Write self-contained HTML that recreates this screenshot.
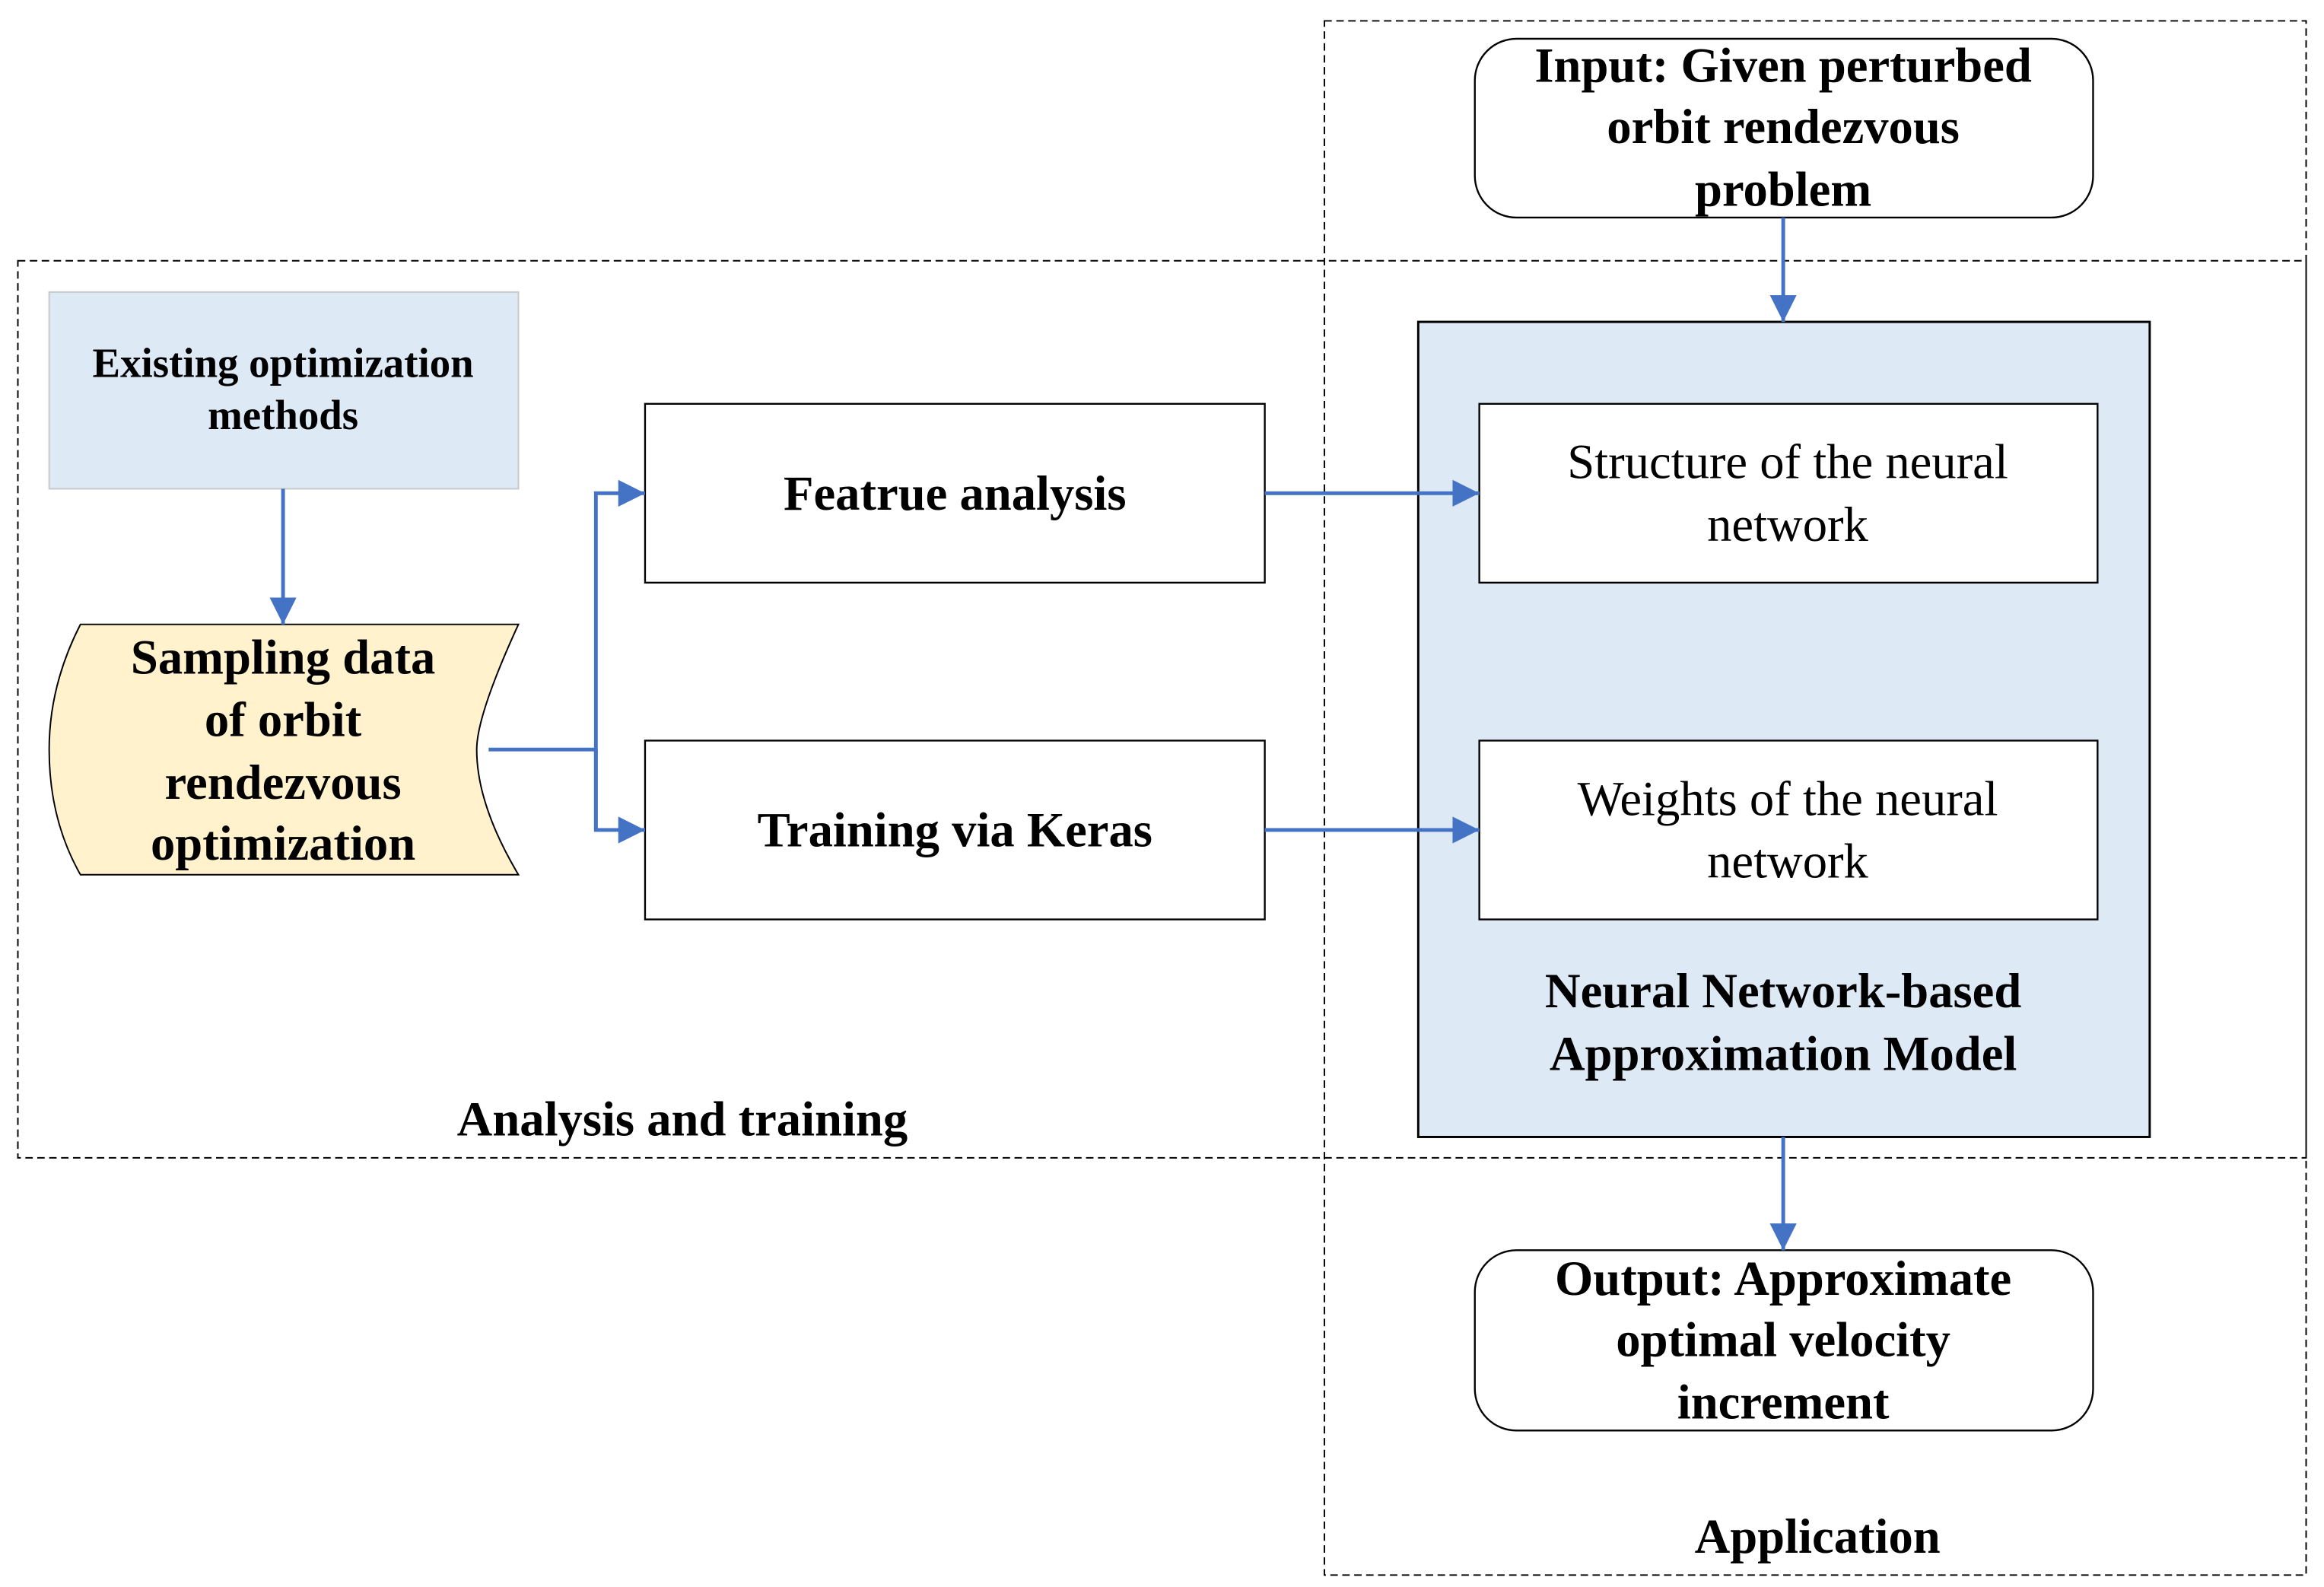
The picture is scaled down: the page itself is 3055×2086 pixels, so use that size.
<!DOCTYPE html>
<html><head><meta charset="utf-8"><style>html,body{margin:0;padding:0;background:#fff}svg{display:block}</style></head>
<body>
<svg width="3055" height="2086" viewBox="0 0 1560 1065" preserveAspectRatio="none" xmlns="http://www.w3.org/2000/svg" font-family="'Liberation Serif', serif">
<defs>
<marker id="b" viewBox="0 0 10 10" markerWidth="18" markerHeight="18" refX="10" refY="5" orient="auto" markerUnits="userSpaceOnUse"><path d="M0,0 L10,5 L0,10 Z" fill="#4472c4"/></marker></defs>
<rect width="1560" height="1065" fill="#fff"/>
<rect x="12" y="175" width="1536" height="602" fill="none" stroke="#000" stroke-width="1" stroke-dasharray="5,3"/>
<rect x="889" y="14" width="659" height="1043" fill="none" stroke="#000" stroke-width="1" stroke-dasharray="5,3"/>
<rect x="33" y="196" width="315" height="132" fill="#dde9f5" stroke="#c8c8c8" stroke-width="1"/>
<text font-weight="bold" font-size="28" text-anchor="middle"><tspan x="190" y="253">Existing optimization</tspan><tspan x="190" y="288">methods</tspan></text>
<path d="M54,419 L348,419 Q320,480 320,503 Q320,540 348,587 L54,587 Q33,550 33,503 Q33,460 54,419 Z" fill="#fff2cc" stroke="#000" stroke-width="1"/>
<text font-weight="bold" font-size="33" text-anchor="middle"><tspan x="190" y="452">Sampling data</tspan><tspan x="190" y="494">of orbit</tspan><tspan x="190" y="536">rendezvous</tspan><tspan x="190" y="577">optimization</tspan></text>
<rect x="433" y="271" width="416" height="120" fill="#fff" stroke="#000" stroke-width="1.2"/>
<rect x="433" y="497" width="416" height="120" fill="#fff" stroke="#000" stroke-width="1.2"/>
<text font-weight="bold" font-size="33" text-anchor="middle"><tspan x="641" y="342">Featrue analysis</tspan><tspan x="641" y="568">Training via Keras</tspan></text>
<rect x="952" y="216" width="491" height="547" fill="#dde9f5" stroke="#000" stroke-width="1.5"/>
<rect x="993" y="271" width="415" height="120" fill="#fff" stroke="#000" stroke-width="1.2"/>
<rect x="993" y="497" width="415" height="120" fill="#fff" stroke="#000" stroke-width="1.2"/>
<text font-size="33" text-anchor="middle"><tspan x="1200" y="321">Structure of the neural</tspan><tspan x="1200" y="363">network</tspan><tspan x="1200" y="547">Weights of the neural</tspan><tspan x="1200" y="589">network</tspan></text>
<text font-weight="bold" font-size="33" text-anchor="middle"><tspan x="1197" y="676">Neural Network-based</tspan><tspan x="1197" y="718">Approximation Model</tspan></text>
<rect x="990" y="26" width="415" height="120" rx="28" fill="#fff" stroke="#000" stroke-width="1.2"/>
<text font-weight="bold" font-size="33" text-anchor="middle"><tspan x="1197" y="55">Input: Given perturbed</tspan><tspan x="1197" y="96">orbit rendezvous</tspan><tspan x="1197" y="138">problem</tspan></text>
<rect x="990" y="839" width="415" height="121" rx="28" fill="#fff" stroke="#000" stroke-width="1.2"/>
<text font-weight="bold" font-size="33" text-anchor="middle"><tspan x="1197" y="869">Output: Approximate</tspan><tspan x="1197" y="910">optimal velocity</tspan><tspan x="1197" y="952">increment</tspan></text>
<text font-weight="bold" font-size="33" text-anchor="middle" x="458" y="762">Analysis and training</text>
<text font-weight="bold" font-size="33" text-anchor="middle" x="1220" y="1042">Application</text>
<g stroke="#4472c4" stroke-width="2.5" fill="none">
<line x1="190" y1="328" x2="190" y2="419" marker-end="url(#b)"/>
<polyline points="328,503 400,503"/>
<polyline points="400,557 400,331 433,331" marker-end="url(#b)"/>
<polyline points="400,503 400,557 433,557" marker-end="url(#b)"/>
<line x1="849" y1="331" x2="993" y2="331" marker-end="url(#b)"/>
<line x1="849" y1="557" x2="993" y2="557" marker-end="url(#b)"/>
<line x1="1197" y1="146" x2="1197" y2="216" marker-end="url(#b)"/>
<line x1="1197" y1="763" x2="1197" y2="839" marker-end="url(#b)"/>
</g>
</svg>
</body></html>
